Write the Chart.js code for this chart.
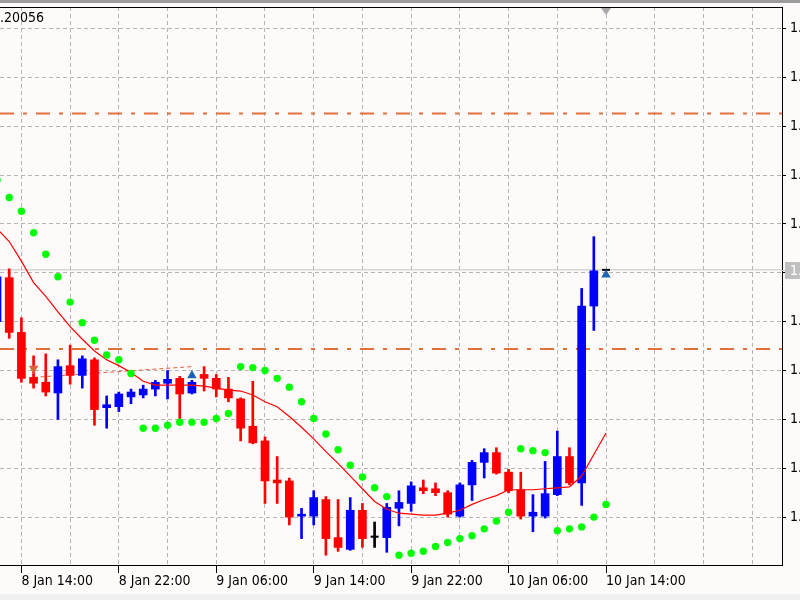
<!DOCTYPE html>
<html><head><meta charset="utf-8">
<script src="https://cdn.jsdelivr.net/npm/chart.js@4"></script>
<style>
html,body{margin:0;padding:0;background:#FFFAFA;}
#wrap{position:relative;width:800px;height:600px;overflow:hidden;}
#c{position:absolute;left:0;top:0;}
#title{position:absolute;left:0;top:9px;font:14px "DejaVu Sans Condensed","DejaVu Sans",sans-serif;color:#000;line-height:16px;}
</style></head><body>
<div id="wrap"><canvas id="c" width="800" height="600"></canvas><div id="title">.20056</div></div>
<script>
const times = ['8 Jan 12:00','8 Jan 13:00','8 Jan 14:00','8 Jan 15:00','8 Jan 16:00','8 Jan 17:00','8 Jan 18:00','8 Jan 19:00','8 Jan 20:00','8 Jan 21:00','8 Jan 22:00','8 Jan 23:00',
 '9 Jan 00:00','9 Jan 01:00','9 Jan 02:00','9 Jan 03:00','9 Jan 04:00','9 Jan 05:00','9 Jan 06:00','9 Jan 07:00','9 Jan 08:00','9 Jan 09:00','9 Jan 10:00','9 Jan 11:00',
 '9 Jan 12:00','9 Jan 13:00','9 Jan 14:00','9 Jan 15:00','9 Jan 16:00','9 Jan 17:00','9 Jan 18:00','9 Jan 19:00','9 Jan 20:00','9 Jan 21:00','9 Jan 22:00','9 Jan 23:00',
 '10 Jan 00:00','10 Jan 01:00','10 Jan 02:00','10 Jan 03:00','10 Jan 04:00','10 Jan 05:00','10 Jan 06:00','10 Jan 07:00','10 Jan 08:00','10 Jan 09:00','10 Jan 10:00','10 Jan 11:00',
 '10 Jan 12:00','10 Jan 13:00','10 Jan 14:00'];
const openP  = [1.20000,1.20045,1.19989,1.19943,1.19938,1.19927,1.19955,1.19945,1.19961,1.19912,1.19913,1.19923,
 1.19925,1.19931,1.19937,1.19942,1.19927,1.19946,1.19942,1.19931,1.19921,1.19893,1.19878,1.19838,
 1.19837,1.19801,1.19801,1.19818,1.19779,1.19767,1.19807,1.19780,1.19779,1.19809,1.19814,1.19830,
 1.19829,1.19825,1.19801,1.19833,1.19856,1.19866,1.19846,1.19828,1.19801,1.19801,1.19823,1.19862,
 1.19835,1.20016,1.20053];
const highP  = [1.20051,1.20054,1.20004,1.19965,1.19967,1.19961,1.19976,1.19965,1.19963,1.19924,1.19928,1.19931,
 1.19935,1.19940,1.19950,1.19944,1.19940,1.19954,1.19946,1.19943,1.19922,1.19939,1.19882,1.19862,
 1.19840,1.19809,1.19827,1.19821,1.19818,1.19820,1.19814,1.19795,1.19814,1.19827,1.19836,1.19838,
 1.19835,1.19827,1.19835,1.19858,1.19870,1.19871,1.19849,1.19846,1.19823,1.19857,1.19888,1.19871,
 1.20034,1.20087,1.20053];
const lowP   = [1.19996,1.19983,1.19938,1.19932,1.19924,1.19900,1.19936,1.19932,1.19894,1.19891,1.19908,1.19916,
 1.19922,1.19924,1.19921,1.19898,1.19926,1.19929,1.19923,1.19918,1.19878,1.19875,1.19814,1.19814,
 1.19792,1.19778,1.19792,1.19761,1.19765,1.19766,1.19769,1.19769,1.19764,1.19791,1.19806,1.19824,
 1.19822,1.19800,1.19800,1.19817,1.19840,1.19844,1.19825,1.19798,1.19785,1.19799,1.19822,1.19833,
 1.19812,1.19991,1.20053];
const closeP = [1.20046,1.19989,1.19942,1.19937,1.19928,1.19954,1.19945,1.19962,1.19910,1.19915,1.19926,1.19928,
 1.19931,1.19938,1.19941,1.19926,1.19938,1.19942,1.19931,1.19922,1.19891,1.19876,1.19837,1.19835,
 1.19800,1.19803,1.19820,1.19778,1.19769,1.19807,1.19778,1.19780,1.19810,1.19815,1.19832,1.19827,
 1.19825,1.19803,1.19833,1.19856,1.19866,1.19845,1.19827,1.19801,1.19805,1.19824,1.19862,1.19835,
 1.20016,1.20052,1.20053];
const maP    = [1.20095,1.20082,1.20062,1.20040,1.20026,1.20010,1.19995,1.19982,1.19970,1.19961,1.19955,1.19948,
 1.19939,1.19935,1.19935,1.19935,1.19935,1.19934,1.19932,1.19930,1.19929,1.19925,1.19918,1.19913,
 1.19903,1.19892,1.19880,1.19867,1.19855,1.19842,1.19829,1.19816,1.19808,1.19804,1.19803,1.19802,
 1.19802,1.19804,1.19807,1.19813,1.19818,1.19822,1.19828,1.19828,1.19828,1.19829,1.19830,1.19831,
 1.19842,1.19864,1.19886];
const sarP   = [1.20145,1.20127,1.20113,1.20091,1.20069,1.20046,1.20020,1.19999,1.19981,1.19966,1.19961,1.19947,
 1.19891,1.19891,1.19894,1.19897,1.19897,1.19897,1.19901,1.19906,1.19954,1.19953,1.19950,1.19942,
 1.19933,1.19918,1.19901,1.19885,1.19869,1.19853,1.19841,1.19830,1.19821,1.19761,1.19763,1.19765,
 1.19770,1.19774,1.19778,1.19781,1.19788,1.19796,1.19805,1.19870,1.19868,1.19866,1.19786,1.19788,
 1.19790,1.19800,1.19813];
const priceTicks = [1.1980,1.1985,1.1990,1.1995,1.2000,1.2005,1.2010,1.2015,1.2020,1.2025,1.2030];
const tickLabels = ['8 Jan 14:00','8 Jan 22:00','9 Jan 06:00','9 Jan 14:00','9 Jan 22:00','10 Jan 06:00','10 Jan 14:00'];
const levelLines = [1.20213, 1.19972];
const bidPrice = 1.20053;
const sellArrows = [{t:'8 Jan 15:00', p:1.19952}];
const buyArrows = [{t:'9 Jan 04:00', p:1.19945},{t:'10 Jan 14:00', p:1.20048}];
const tradeLine = [{t:'8 Jan 15:00', p:1.19943},{t:'9 Jan 04:00', p:1.19954}];

const base = times.indexOf(tickLabels[0]);
const xOf = t => times.indexOf(t) - base;
const X_MIN = -1.757, X_MAX = 62.45;
const UP = '#0000FF', DN = '#FF0000', DOJI = '#000000';
const colOf = k => closeP[k] > openP[k] ? UP : (closeP[k] < openP[k] ? DN : DOJI);

const wickData = times.map((t,k)=>({x:xOf(t), y:[lowP[k], highP[k]]}));
const bodyIdx = times.map((t,k)=>k).filter(k=>openP[k]!==closeP[k]);
const bodyData = bodyIdx.map(k=>({x:xOf(times[k]), y:[openP[k], closeP[k]]}));
const dojiData = times.map((t,k)=>k).filter(k=>openP[k]===closeP[k]).map(k=>({x:xOf(times[k]), y:closeP[k]}));
const FONT = '"DejaVu Sans Condensed","DejaVu Sans",sans-serif';
const GRID = '#B4B4B4';

const hl = (v, color, dash, w) => ({type:'line', data:[{x:X_MIN,y:v},{x:X_MAX,y:v}], borderColor:color, borderWidth:w, borderDash:dash, pointRadius:0, order:10});

const frame = {
  id:'frame',
  beforeDraw(chart){
    const c = chart.ctx; c.save();
    c.fillStyle = '#FFFAFA'; c.fillRect(0,0,800,600);
    c.fillStyle = '#9C9C9C'; c.fillRect(0,0,800,3);
    c.fillStyle = '#F0F0F0'; c.fillRect(0,594,800,6);
    c.restore();
  },
  afterDraw(chart){
    const c = chart.ctx, a = chart.chartArea, ys = chart.scales.y, xs = chart.scales.x;
    c.save();
    c.strokeStyle = '#000'; c.lineWidth = 1;
    c.beginPath(); c.moveTo(0, a.top + 0.5); c.lineTo(a.right, a.top + 0.5); c.stroke();
    const by = Math.round(ys.getPixelForValue(bidPrice));
    c.strokeStyle = '#C0C0C0'; c.beginPath(); c.moveTo(a.right, by+0.5); c.lineTo(785, by+0.5); c.stroke();
    c.fillStyle = '#C0C0C0'; c.fillRect(785, by-8, 15, 17);
    c.fillStyle = '#FFFFFF'; c.font = '14px ' + FONT; c.textBaseline = 'middle'; c.textAlign = 'left';
    c.fillText(bidPrice.toFixed(5), 790, by+1);
    const lx = xs.getPixelForValue(xOf(times[times.length-1]));
    c.fillStyle = '#A8A8A8'; c.beginPath(); c.moveTo(lx-5, a.top+1); c.lineTo(lx+5, a.top+1); c.lineTo(lx, a.top+8); c.closePath(); c.fill();
    c.restore();
  }
};

new Chart(document.getElementById('c'), {
  type:'bar',
  data:{ datasets:[
    hl(levelLines[0], '#E2703A', [14,9,4,9], 2),
    hl(levelLines[1], '#E2703A', [14,9,4,9], 2),
    hl(bidPrice, '#C0C0C0', [], 1),
    {type:'line', data:tradeLine.map(d=>({x:xOf(d.t), y:d.p})), borderColor:'#E2603A', borderWidth:1, borderDash:[4,3], pointRadius:0, order:9},
    {type:'bar', data:wickData, backgroundColor:times.map((t,k)=>colOf(k)), barThickness:2, grouped:false, borderWidth:0, order:8},
    {type:'bar', data:bodyData, backgroundColor:bodyIdx.map(k=>colOf(k)), barThickness:8, grouped:false, borderWidth:0, order:7},
    {type:'scatter', data:dojiData, pointStyle:'line', radius:4, borderColor:DOJI, borderWidth:2, order:6},
    {type:'line', data:times.map((t,k)=>({x:xOf(t), y:maP[k]})), borderColor:'#FF0000', borderWidth:1.2, pointRadius:0, tension:0, order:5},
    {type:'scatter', data:times.map((t,k)=>({x:xOf(t), y:sarP[k]})), pointRadius:3.7, backgroundColor:'#00FF00', borderWidth:0, order:4},
    {type:'scatter', data:sellArrows.map(d=>({x:xOf(d.t), y:d.p})), pointStyle:'triangle', rotation:180, pointRadius:5.5, backgroundColor:'#D8663A', borderWidth:0, order:3},
    {type:'scatter', data:buyArrows.map(d=>({x:xOf(d.t), y:d.p})), pointStyle:'triangle', pointRadius:5.5, backgroundColor:'#1E64B4', borderWidth:0, order:3}
  ]},
  options:{
    responsive:false, animation:false, events:[],
    layout:{ padding:{left:0, right:0, top:7, bottom:0}, autoPadding:false },
    plugins:{ legend:{display:false}, tooltip:{enabled:false}, title:{display:false} },
    scales:{
      x:{ type:'linear', position:'bottom', min:X_MIN, max:X_MAX, offset:false, stacked:false,
        afterBuildTicks: s => { s.ticks = [0,4,8,12,16,20,24,28,32,36,40,44,48,52,56,60].map(v=>({value:v})); },
        afterFit: s => { s.height = 35; s.paddingLeft = 0; s.paddingRight = 0; },
        grid:{ offset:false, color:GRID, lineWidth:1, tickLength:8, tickWidth:1, tickBorderDash:[],
          tickColor: ctx => (ctx.tick && ctx.tick.value % 8 === 0 && ctx.tick.value <= 48) ? '#000' : 'rgba(0,0,0,0)' },
        border:{ display:true, color:'#000', width:1, dash:[4,3] },
        ticks:{ autoSkip:false, maxRotation:0, minRotation:0, align:'start', padding:0, color:'#000',
          font:{ family:FONT, size:14 },
          callback: v => (v % 8 === 0 && v/8 < tickLabels.length) ? tickLabels[v/8] : '' }
      },
      y:{ type:'linear', position:'right', min:1.19751, max:1.20322, beginAtZero:false, stacked:false,
        afterBuildTicks: s => { s.ticks = priceTicks.map(v=>({value:v})); },
        afterFit: s => { s.width = 18; s.paddingTop = 0; s.paddingBottom = 0; },
        grid:{ color:GRID, lineWidth:1, tickLength:4, tickWidth:1, tickColor:'#000', tickBorderDash:[] },
        border:{ display:true, color:'#000', width:1, dash:[4,3] },
        ticks:{ padding:4, color:'#000', font:{ family:FONT, size:14 }, callback: v => v.toFixed(4) }
      }
    }
  },
  plugins:[frame]
});
</script>
</body></html>
